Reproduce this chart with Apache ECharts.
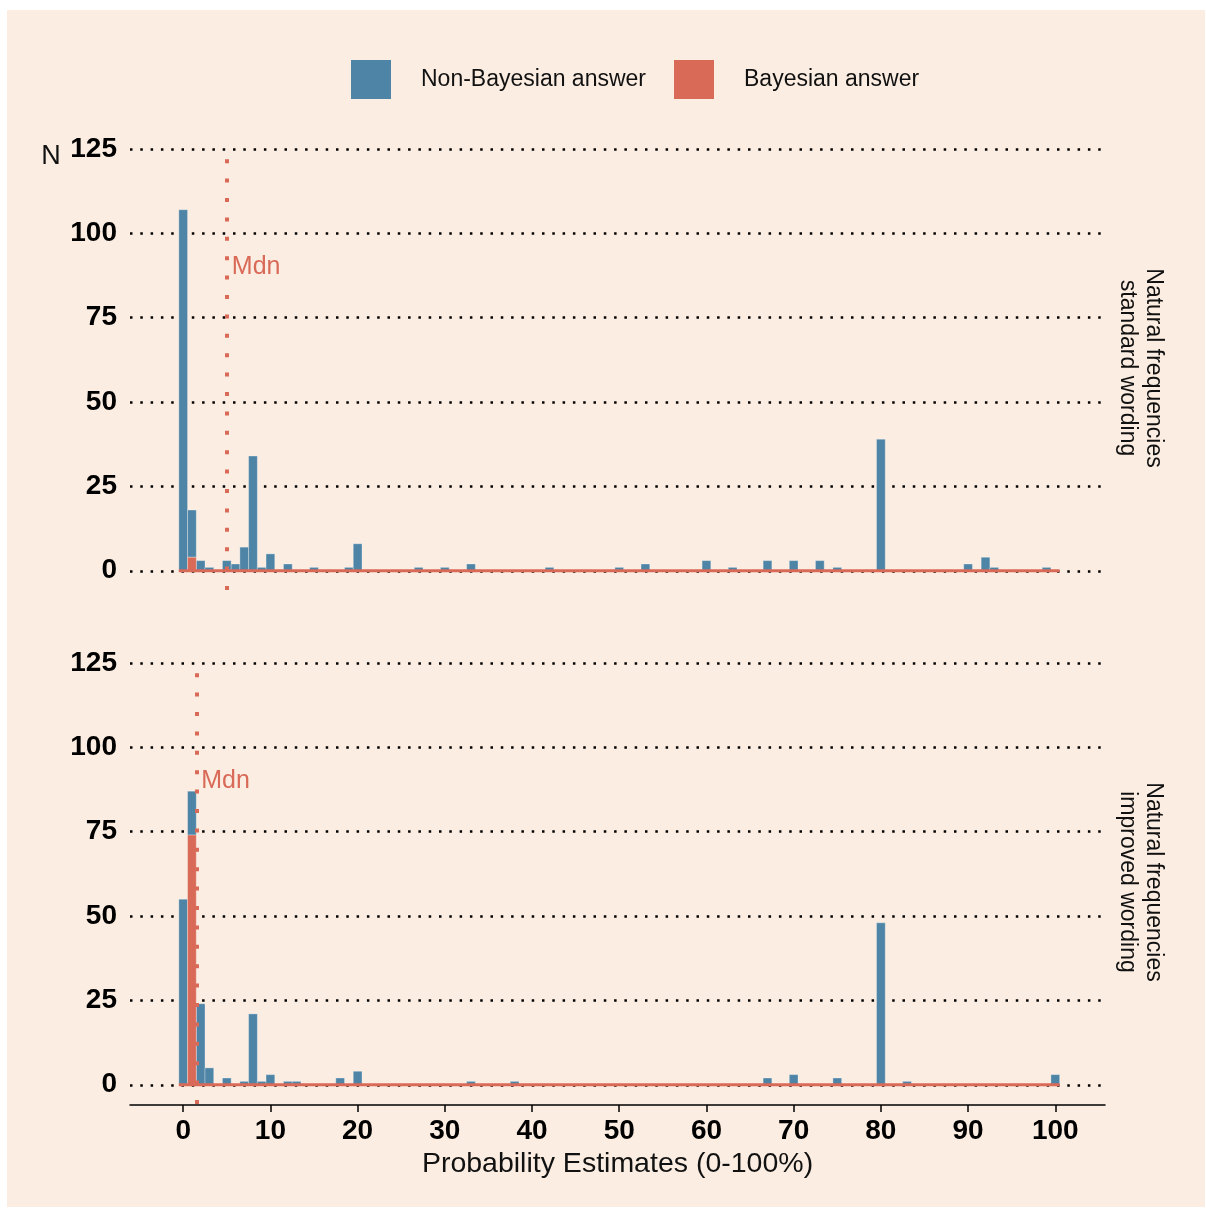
<!DOCTYPE html>
<html>
<head>
<meta charset="utf-8">
<script src="https://cdn.jsdelivr.net/npm/echarts@6/dist/echarts.min.js"></script>
<style>
  html, body { margin: 0; padding: 0; background: #fff; }
  #chart { position: absolute; left: 7px; top: 10px; width: 1198px; height: 1197px; }
</style>
</head>
<body>
<div id="chart"></div>
<script>
  // panel 1: natural frequencies, standard wording
  var topNonBayesX = [0, 1, 2, 3, 5, 6, 7, 8, 9, 10, 12, 15, 19, 20, 27, 30, 33, 42, 50, 53, 60, 63, 67, 70, 73, 75, 80, 90, 92, 93, 99];
  var topNonBayesN = [107, 14, 3, 1, 3, 2, 7, 34, 1, 5, 2, 1, 1, 8, 1, 1, 2, 1, 1, 2, 3, 1, 3, 3, 3, 1, 39, 2, 4, 1, 1];
  var topBayesX = [1];
  var topBayesN = [4];
  var topMedian = 5;

  // panel 2: natural frequencies, improved wording
  var botNonBayesX = [0, 1, 2, 3, 5, 7, 8, 9, 10, 12, 13, 18, 20, 33, 38, 67, 70, 75, 80, 83, 100];
  var botNonBayesN = [55, 13, 24, 5, 2, 1, 21, 1, 3, 1, 1, 2, 4, 1, 1, 2, 3, 2, 48, 1, 3];
  var botBayesX = [1];
  var botBayesN = [74];
  var botMedian = 1.5;

  var yTicks = [0, 25, 50, 75, 100, 125];
  var xTicks = [0, 10, 20, 30, 40, 50, 60, 70, 80, 90, 100];
  var binRange = [0, 100];

  var blue = '#4E84A6';
  var red = '#D96A58';
  var font = 'Liberation Sans, Arial, sans-serif';

  // stacked histogram: bayesian at the bottom, non-bayesian on top
  function bayesData(xs, ns) {
    return xs.map(function (x, i) { return [x, 0, ns[i]]; });
  }
  function nonBayesData(xs, ns, bx, bn) {
    return xs.map(function (x, i) {
      var k = bx.indexOf(x);
      var base = k >= 0 ? bn[k] : 0;
      return [x, base, base + ns[i]];
    });
  }

  function renderBar(params, api) {
    var x = api.value(0);
    var p0 = api.coord([x - 0.5, api.value(1)]);
    var p1 = api.coord([x + 0.5, api.value(2)]);
    return {
      type: 'rect',
      shape: { x: p0[0], y: p1[1], width: p1[0] - p0[0], height: p0[1] - p1[1] },
      style: { fill: api.visual('color'), stroke: 'rgba(255,255,255,0.3)', lineWidth: 1 }
    };
  }

  function panelSeries(idx, nbX, nbN, bX, bN, median) {
    return [
      {
        // dotted grid lines
        type: 'line', xAxisIndex: idx, yAxisIndex: idx, data: [], z: 1, silent: true,
        markLine: {
          silent: true, symbol: 'none', animation: false, z: 1,
          label: { show: false },
          lineStyle: { color: '#000', width: 2.5, type: [2.5, 7.8], cap: 'butt' },
          data: yTicks.map(function (v) { return { yAxis: v }; })
        }
      },
      {
        name: 'Non-Bayesian answer', type: 'custom', xAxisIndex: idx, yAxisIndex: idx, z: 2,
        itemStyle: { color: blue },
        encode: { x: 0, y: [1, 2] },
        renderItem: renderBar,
        data: nonBayesData(nbX, nbN, bX, bN)
      },
      {
        name: 'Bayesian answer', type: 'custom', xAxisIndex: idx, yAxisIndex: idx, z: 3,
        itemStyle: { color: red },
        encode: { x: 0, y: [1, 2] },
        renderItem: renderBar,
        data: bayesData(bX, bN)
      },
      {
        // zero-count bins of the bayesian histogram
        type: 'line', xAxisIndex: idx, yAxisIndex: idx, z: 4, silent: true,
        symbol: 'none', lineStyle: { color: red, width: 3 },
        data: [[binRange[0] - 0.5, 0], [binRange[1] + 0.5, 0]],
        markLine: {
          silent: true, symbol: 'none', animation: false, z: 6,
          label: { show: false },
          lineStyle: { color: red, width: 4, type: [4, 15.4], cap: 'butt' },
          data: [[{ coord: [median, -5.7] }, { coord: [median, 123] }]]
        },
        markPoint: {
          silent: true, symbol: 'circle', symbolSize: 0, animation: false,
          label: { show: true, position: 'right', distance: 5, formatter: 'Mdn', color: red, fontSize: 25, fontFamily: font },
          data: [{ coord: [median, 90] }]
        }
      }
    ];
  }

  function yAxis(idx) {
    return {
      type: 'value', gridIndex: idx, min: -6, max: 125,
      axisLine: { show: false }, axisTick: { show: false }, splitLine: { show: false },
      axisLabel: {
        customValues: yTicks, color: '#000', fontSize: 28, fontWeight: 'bold',
        fontFamily: font, margin: 13, padding: [6, 0, 0, 0]
      }
    };
  }

  var myChart = echarts.init(document.getElementById('chart'));
  myChart.setOption({
    backgroundColor: '#FBEDE1',
    animation: false,
    legend: {
      left: 344, top: 50, padding: 0,
      itemWidth: 40, itemHeight: 39, itemGap: 28,
      icon: 'rect',
      data: ['Non-Bayesian answer', 'Bayesian answer'],
      textStyle: { color: '#111', fontSize: 23, fontFamily: font, padding: [0, 0, 0, 25] }
    },
    grid: [
      { left: 123, width: 975, top: 139, height: 442 },
      { left: 123, width: 975, top: 653, height: 442 }
    ],
    xAxis: [
      { type: 'value', gridIndex: 0, min: -6.1, max: 105.7, show: false, splitLine: { show: false } },
      {
        type: 'value', gridIndex: 1, min: -6.1, max: 105.7,
        splitLine: { show: false },
        axisLine: { show: true, onZero: false, lineStyle: { color: '#000', width: 1.5 } },
        axisTick: { show: true, customValues: xTicks, length: 7, lineStyle: { color: '#000', width: 1.5 } },
        axisLabel: { customValues: xTicks, color: '#000', fontSize: 28, fontWeight: 'bold', fontFamily: font, margin: 12 },
        name: 'Probability Estimates (0-100%)',
        nameLocation: 'middle', nameGap: 45,
        nameTextStyle: { color: '#111', fontSize: 28.5, fontFamily: font }
      }
    ],
    yAxis: [yAxis(0), yAxis(1)],
    series: panelSeries(0, topNonBayesX, topNonBayesN, topBayesX, topBayesN, topMedian)
      .concat(panelSeries(1, botNonBayesX, botNonBayesN, botBayesX, botBayesN, botMedian)),
    graphic: [
      {
        type: 'text', x: 44, y: 147,
        style: { text: 'N', fill: '#111', fontSize: 27, fontFamily: font, align: 'center', verticalAlign: 'middle' }
      },
      {
        type: 'text', x: 1133, y: 358, rotation: -Math.PI / 2,
        style: { text: 'Natural frequencies\nstandard wording', fill: '#111', fontSize: 23, lineHeight: 26, fontFamily: font, align: 'center', verticalAlign: 'middle' }
      },
      {
        type: 'text', x: 1133, y: 872, rotation: -Math.PI / 2,
        style: { text: 'Natural frequencies\nimproved wording', fill: '#111', fontSize: 23, lineHeight: 26, fontFamily: font, align: 'center', verticalAlign: 'middle' }
      }
    ]
  });
</script>
</body>
</html>
